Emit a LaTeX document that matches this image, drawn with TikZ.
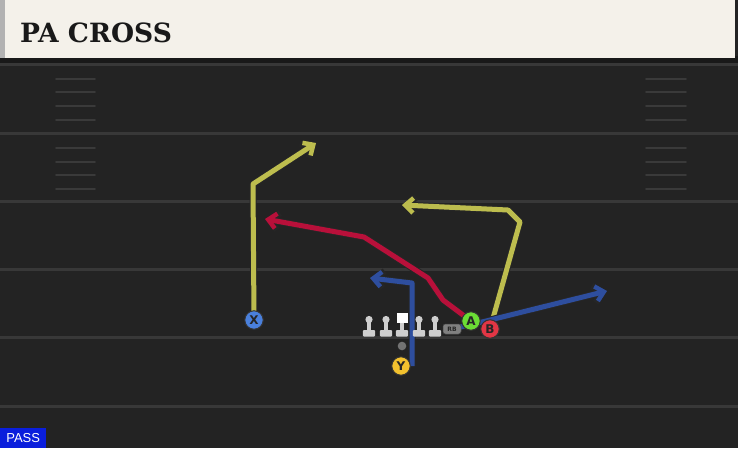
\documentclass[tikz,border=0pt]{standalone}
\usepackage{fontspec}
\setmainfont{DejaVu Sans}
\newfontfamily\titlefont{DejaVu Serif}
\newfontfamily\passfont{Liberation Sans}
\usetikzlibrary{arrows.meta}
\definecolor{fieldbg}{HTML}{232323}
\definecolor{yardline}{HTML}{383838}
\definecolor{hashc}{HTML}{3A3A3A}
\definecolor{headbg}{HTML}{F4F1EA}
\definecolor{ryel}{HTML}{BDBD4E}
\definecolor{rred}{HTML}{B8103A}
\definecolor{rblue}{HTML}{2E4E9E}
\definecolor{cblue}{HTML}{4A80DC}
\definecolor{cyel}{HTML}{F2C12E}
\definecolor{cgreen}{HTML}{6BDD35}
\definecolor{cred}{HTML}{E23645}
\definecolor{linec}{HTML}{CFCFCF}
\definecolor{passblue}{HTML}{0A1EDC}
\tikzset{
  outl/.style={draw=black!85, line width=7pt, line join=round,
    -{Straight Barb[length=9pt,width=17pt,line width=6.5pt]}},
  rt/.style={draw=#1, line width=5pt, line join=round,
    -{Straight Barb[length=8pt,width=15pt,line width=4.5pt]}},
  player/.style={circle, draw=black!80, line width=1pt, fill=#1,
    minimum size=18.5pt, inner sep=0pt, font=\bfseries\fontsize{12}{12}\selectfont, text=black!85},
  yard/.style={draw=yardline, line width=3pt},
  hash/.style={draw=hashc, line width=1.8pt, line cap=round},
  lman/.style={fill=linec, draw=none}
}
\newcommand\myroute[2]{\draw[outl] #2; \draw[rt=#1] #2;}
\newcommand\lineman[1]{%
  \fill[lman] (#1,319.5) circle (3.6);
  \fill[lman] (#1-1.9,320) rectangle (#1+1.9,331);
  \fill[lman, rounded corners=1pt] (#1-6.2,330) rectangle (#1+6.2,336.5);}
\begin{document}
\begin{tikzpicture}[x=1pt,y=-1pt]
\useasboundingbox (0,0) rectangle (738,448);
% field
\fill[fieldbg] (0,0) rectangle (738,448);
\fill[black!90] (0,56) rectangle (738,63);
\foreach \yy in {64,133,201,269,337,406} \draw[yard] (0,\yy) -- (738,\yy);
\foreach \yy in {79,92,106,120,148,162,175,189} {
  \draw[hash] (56,\yy) -- (95,\yy);
  \draw[hash] (646,\yy) -- (686,\yy);
}
% header
\fill[headbg] (0,0) rectangle (735,58);
\fill[black!30] (0,0) rectangle (5,58);
\node[anchor=west, inner sep=0pt, text=black!90] (title) at (20,33)
  {\titlefont\bfseries\fontsize{26.5}{26.5}\selectfont PA CROSS};
% coordinates
\coordinate (Xc) at (254,320);
\coordinate (Yc) at (401,366);
\coordinate (Ac) at (471,321);
\coordinate (Bc) at (490,329);
\coordinate (RBc) at (452,329);
\coordinate (x1) at (253,184);
\coordinate (x2) at (316,143);
\coordinate (y1) at (412,283);
\coordinate (y2) at (370,278);
\coordinate (a1) at (443,300);
\coordinate (a2) at (428,278);
\coordinate (a3) at (364,237);
\coordinate (a4) at (265,219);
\coordinate (b1) at (520,222);
\coordinate (b2) at (508,210);
\coordinate (b3) at (402,205);
\coordinate (r1) at (482,322);
\coordinate (r2) at (607,291);
% routes
\myroute{ryel}{(Xc) -- (x1) -- (x2)}
\myroute{rblue}{(412,366) -- (y1) -- (y2)}
\myroute{rred}{(Ac) -- (a1) -- (a2) -- (a3) -- (a4)}
\myroute{ryel}{(Bc) -- (b1) -- (b2) -- (b3)}
\myroute{rblue}{(RBc) -- (r1) -- (r2)}
% line
\lineman{369}
\lineman{386}
\lineman{419}
\lineman{435}
\fill[lman] (400.1,320) rectangle (403.9,331);
\fill[white] (396.5,312.5) rectangle (407.5,323);
\fill[lman, rounded corners=1pt] (395.8,330) rectangle (408.2,336.5);
\fill[black!55] (402,346) circle (4.3);
\node[fill=black!50, draw=black!70, line width=0.5pt, rounded corners=2.5pt, minimum width=18pt, minimum height=10pt,
  inner sep=0pt, font=\bfseries\fontsize{6}{6}\selectfont, text=black!85] (RB) at (RBc) {RB};
% players
\node[player=cblue] (X) at (Xc) {X};
\node[player=cyel] (Y) at (Yc) {Y};
\node[player=cgreen] (A) at (Ac) {A};
\node[player=cred] (B) at (Bc) {B};
% pass label
\node[fill=passblue, anchor=south west, minimum width=46pt, minimum height=20pt,
  inner sep=0pt, text=white, font=\passfont\fontsize{13}{13}\selectfont] (pass) at (0,448) {PASS};
\end{tikzpicture}
\end{document}
